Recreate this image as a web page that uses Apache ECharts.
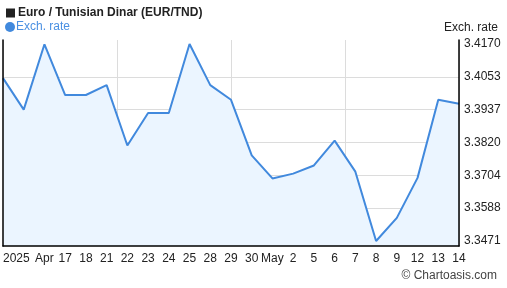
<!DOCTYPE html>
<html><head><meta charset="utf-8">
<script src="https://cdn.jsdelivr.net/npm/echarts@6/dist/echarts.min.js"></script>
<style>html,body{margin:0;padding:0;background:#fff}#c{width:507px;height:288px}</style>
</head><body><div id="c"></div>
<script>
var dates = ['2025-04-14','2025-04-15','2025-04-16','2025-04-17','2025-04-18','2025-04-21','2025-04-22','2025-04-23','2025-04-24','2025-04-25','2025-04-28','2025-04-29','2025-04-30','2025-05-01','2025-05-02','2025-05-05','2025-05-06','2025-05-07','2025-05-08','2025-05-09','2025-05-12','2025-05-13','2025-05-14'];
var xLabels = ['2025','','Apr','17','18','21','22','23','24','25','28','29','30','May','2','5','6','7','8','9','12','13','14'];
var rates = [3.4049,3.3937,3.4169,3.3989,3.3989,3.4024,3.3810,3.3925,3.3925,3.4170,3.4024,3.3972,3.3775,3.3693,3.3710,3.3739,3.3827,3.3717,3.3471,3.3553,3.3695,3.3972,3.3958];
var yTicks = [3.3471,3.3588,3.3704,3.3820,3.3937,3.4053,3.4170];
var yGrid = [3.3588,3.3704,3.3820,3.3937,3.4053];
var yMin = 3.34533, yMax = 3.41842;

var chart = echarts.init(document.getElementById('c'), null, {renderer:'canvas'});
var font = 'Liberation Sans, Arial, sans-serif';
chart.setOption({
  animation:false,
  textStyle:{fontFamily:font},
  title:[
    {text:'{sq|}{t|Euro / Tunisian Dinar (EUR/TND)}', left:1, top:2,
     textStyle:{rich:{sq:{width:9,height:9,backgroundColor:'#222',padding:0},
       t:{fontFamily:font,fontSize:12,fontWeight:'bold',color:'#222',padding:[0,0,0,3]}}}},
    {text:'Exch. rate', right:4, top:17, textStyle:{fontFamily:font,fontSize:12,fontWeight:'normal',color:'#222'}},
    {text:'© Chartoasis.com', right:5, bottom:1, textStyle:{fontFamily:font,fontSize:12,fontWeight:'normal',color:'#444'}}
  ],
  legend:{data:['Exch. rate'], left:0, top:16, icon:'circle', itemWidth:10, itemHeight:10, itemGap:2,
    textStyle:{fontFamily:font,fontSize:12,color:'#4a90e2',padding:[0,0,0,-4]}},
  grid:{left:1,right:48,top:40,bottom:42},
  xAxis:[
    {type:'category', data:dates, boundaryGap:false, z:5,
     axisLine:{lineStyle:{color:'#000',width:1.5}}, axisTick:{show:false},
     axisLabel:{interval:0, margin:7, fontSize:12, color:'#222', fontFamily:font, alignMinLabel:'left',
       formatter:function(v,i){return xLabels[i];}},
     splitLine:{show:false}},
    {type:'value', min:0, max:4, interval:1, position:'top',
     axisLine:{show:false}, axisTick:{show:false}, axisLabel:{show:false},
     splitLine:{show:true, lineStyle:{color:'#dcdcdc',width:1}}}
  ],
  yAxis:[
    {type:'value', position:'right', min:yMin, max:yMax,
     axisLine:{show:false},
     axisTick:{show:false, customValues:yGrid},
     axisLabel:{customValues:yTicks, margin:5, fontSize:12, color:'#222', fontFamily:font,
       formatter:function(v){return v.toFixed(4);}},
     splitLine:{show:true, lineStyle:{color:'#dcdcdc',width:1}}},
    {type:'value', position:'left', min:yMin, max:yMax, z:5,
     axisLine:{show:true, lineStyle:{color:'#000',width:1.5}},
     axisTick:{show:false}, axisLabel:{show:false}, splitLine:{show:false}},
    {type:'value', position:'right', min:yMin, max:yMax, z:5,
     axisLine:{show:true, lineStyle:{color:'#000',width:1.5}},
     axisTick:{show:false}, axisLabel:{show:false}, splitLine:{show:false}}
  ],
  series:[{
    name:'Exch. rate', type:'line', data:rates, xAxisIndex:0, yAxisIndex:0,
    showSymbol:false, symbol:'circle',
    itemStyle:{color:'#4189dd'},
    lineStyle:{color:'#4189dd', width:2},
    areaStyle:{color:'#ebf5ff', opacity:1, origin:'start'}
  }]
});
</script></body></html>
